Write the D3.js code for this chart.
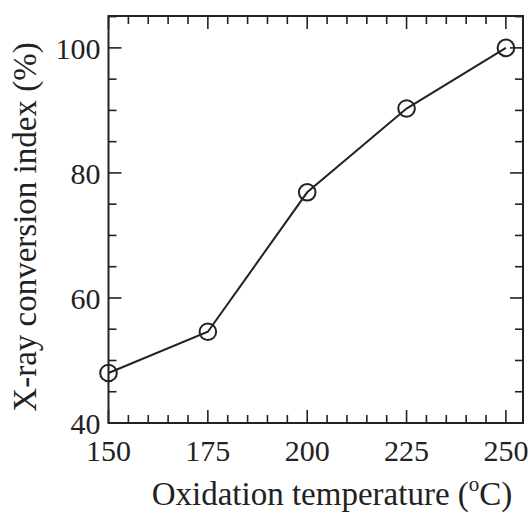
<!DOCTYPE html>
<html>
<head>
<meta charset="utf-8">
<script src="https://cdn.jsdelivr.net/npm/d3@7"></script>
<style>
  body { margin: 0; background: #fff; }
  text { font-family: "Liberation Serif", "DejaVu Serif", serif; fill: #222; }
</style>
</head>
<body>
<div id="chart"></div>
<script>
// oxidation temperature (C) vs x-ray conversion index (%)
var temps = [150, 175, 200, 225, 250];
var conversion = [48, 54.6, 76.9, 90.3, 100];
var xTicks = [150, 175, 200, 225, 250];
var yTicks = [40, 60, 80, 100];

var width = 528, height = 513;
var margin = {top: 16, right: 5, bottom: 90, left: 108.5};

var svg = d3.select("#chart").append("svg")
  .attr("width", width).attr("height", height);

var x = d3.scaleLinear().domain([150, 254.3])
  .range([margin.left, width - margin.right]);
var y = d3.scaleLinear().domain([40, 105.1])
  .range([height - margin.bottom, margin.top]);

var ink = "#222";

// minor ticks every 5 units, major on labelled values
var xMinor = d3.range(150, 255, 5);
var yMinor = d3.range(40, 106, 5);

function tickLen(v, major) { return major.indexOf(v) >= 0 ? 13 : 8; }

var g = svg.append("g").attr("stroke", ink).attr("stroke-width", 1.6);

// bottom + top ticks
xMinor.forEach(function(v) {
  var l = tickLen(v, xTicks);
  g.append("line").attr("x1", x(v)).attr("x2", x(v))
    .attr("y1", y.range()[0]).attr("y2", y.range()[0] - l);
  g.append("line").attr("x1", x(v)).attr("x2", x(v))
    .attr("y1", y.range()[1]).attr("y2", y.range()[1] + l);
});
// left + right ticks
yMinor.forEach(function(v) {
  var l = tickLen(v, yTicks);
  g.append("line").attr("y1", y(v)).attr("y2", y(v))
    .attr("x1", x.range()[0]).attr("x2", x.range()[0] + l);
  g.append("line").attr("y1", y(v)).attr("y2", y(v))
    .attr("x1", x.range()[1]).attr("x2", x.range()[1] - l);
});

// frame
svg.append("rect")
  .attr("x", x.range()[0]).attr("y", y.range()[1])
  .attr("width", x.range()[1] - x.range()[0])
  .attr("height", y.range()[0] - y.range()[1])
  .attr("fill", "none").attr("stroke", ink).attr("stroke-width", 2);

// tick labels
svg.selectAll(".xl").data(xTicks).enter().append("text")
  .attr("x", function(d) { return x(d); })
  .attr("y", 461)
  .attr("text-anchor", "middle")
  .attr("font-size", 30)
  .text(function(d) { return d; });

svg.selectAll(".yl").data(yTicks).enter().append("text")
  .attr("x", x.range()[0] - 8)
  .attr("y", function(d) { return y(d) + 11; })
  .attr("text-anchor", "end")
  .attr("font-size", 30)
  .text(function(d) { return d; });

// axis titles
var xt = svg.append("text")
  .attr("x", 332)
  .attr("y", 505)
  .attr("text-anchor", "middle")
  .attr("font-size", 33);
xt.append("tspan").text("Oxidation temperature (");
xt.append("tspan").attr("font-size", 21).attr("dy", -14).text("o");
xt.append("tspan").attr("dy", 14).text("C)");

svg.append("text")
  .attr("transform", "translate(36,227) rotate(-90)")
  .attr("text-anchor", "middle")
  .attr("font-size", 33)
  .text("X-ray conversion index (%)");

// data line + open circles
var pts = temps.map(function(t, i) { return [t, conversion[i]]; });
var line = d3.line().x(function(d) { return x(d[0]); }).y(function(d) { return y(d[1]); });

svg.append("path").datum(pts)
  .attr("d", line)
  .attr("fill", "none").attr("stroke", ink).attr("stroke-width", 2);

svg.selectAll(".pt").data(pts).enter().append("circle")
  .attr("cx", function(d) { return x(d[0]); })
  .attr("cy", function(d) { return y(d[1]); })
  .attr("r", 8.3)
  .attr("fill", "none").attr("stroke", ink).attr("stroke-width", 2);
</script>
</body>
</html>
